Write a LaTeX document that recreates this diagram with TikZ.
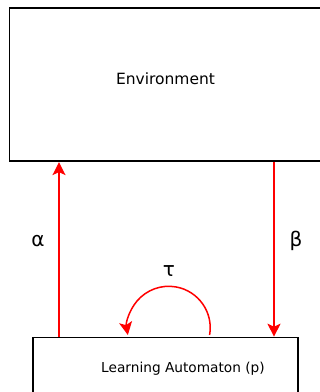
\documentclass[tikz,border=0pt]{standalone}
\usepackage{fontspec}
\setmainfont{DejaVu Sans}
\usetikzlibrary{arrows.meta}
\begin{document}
\begin{tikzpicture}[x=1pt,y=1pt,
  boxnode/.style={draw=black,line width=1.8pt,rectangle,inner sep=0pt,anchor=north west},
  sig/.style={draw=red,line width=1.5pt,-{Stealth[length=13pt,width=13pt,inset=3pt]}},
  greek/.style={font=\fontsize{20}{23}\selectfont,inner sep=0pt}]
\clip (0,0) rectangle (320,392);
\useasboundingbox (0,0) rectangle (320,392);
\node[boxnode,minimum width=314pt,minimum height=153pt] (env) at (8.7,384.7) {};
\node[font=\fontsize{15.5}{18}\selectfont,inner sep=0pt] (envt) at (165.5,313.5) {Environment};
\node[boxnode,minimum width=265.3pt,minimum height=80pt] (la) at (32,55.3) {};
\node[font=\fontsize{13.7}{16}\selectfont,inner sep=0pt] (lat) at (183,23) {Learning Automaton (p)};
\coordinate (ax) at (59,0);
\coordinate (bx) at (274,0);
\draw[sig] (ax |- la.north) -- (ax |- env.south);
\draw[sig] (bx |- env.south) -- (bx |- la.north);
\node[greek] (alpha) at (38,150.5) {α};
\node[greek] (beta) at (296,151) {β};
\node[greek] (tau) at (169,120.5) {τ};
\coordinate (tstart) at (209.6,57);
\draw[sig] (tstart) arc[start angle=-10,end angle=190,radius=41.5];
\end{tikzpicture}
\end{document}
